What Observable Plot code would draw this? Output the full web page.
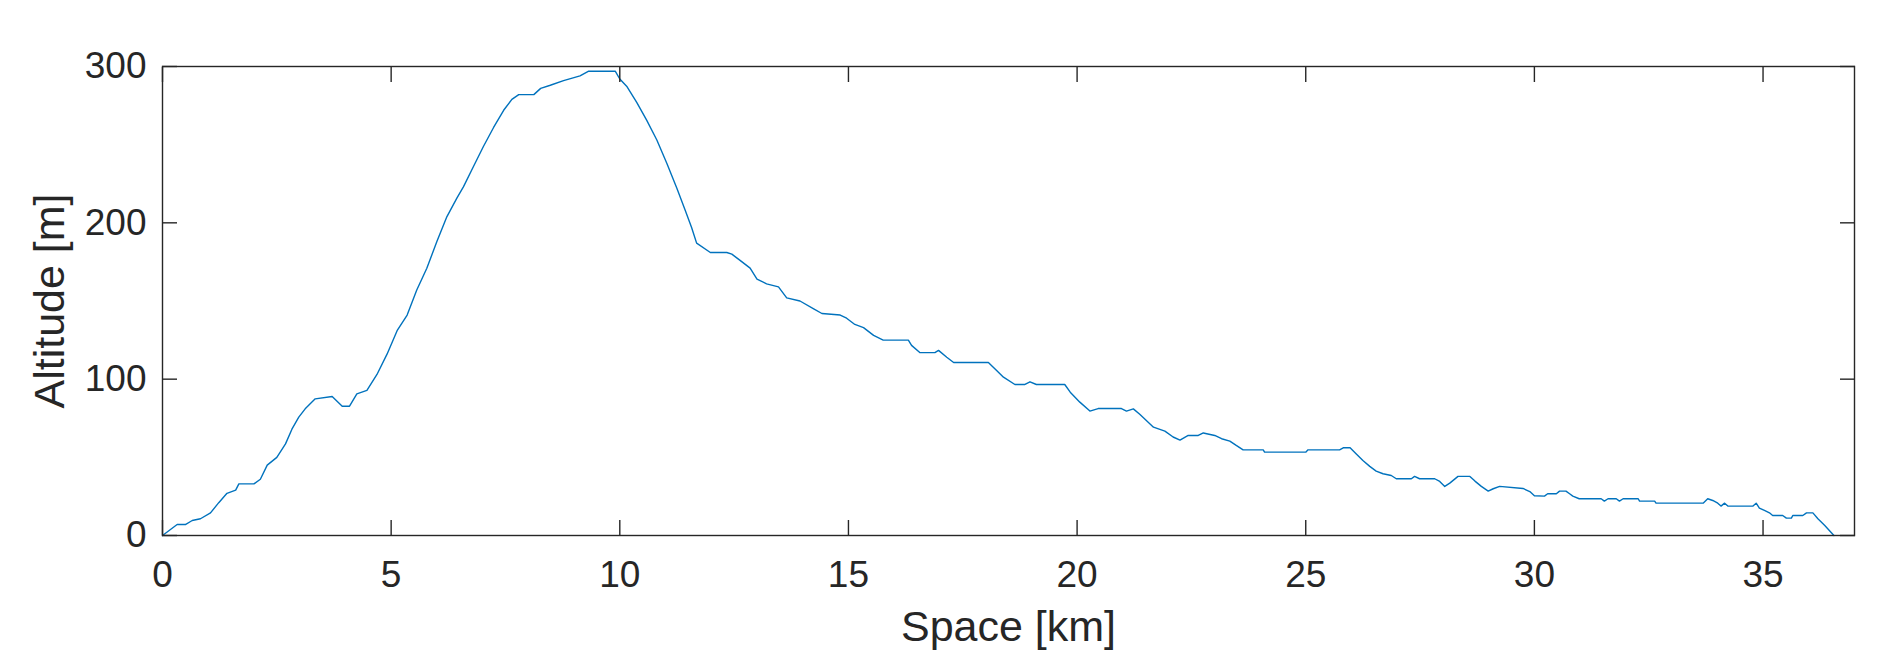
<!DOCTYPE html>
<html>
<head>
<meta charset="utf-8">
<script src="https://cdn.jsdelivr.net/npm/d3@7"></script>
<script src="https://cdn.jsdelivr.net/npm/@observablehq/plot@0.6"></script>
<style>
  html, body { margin: 0; padding: 0; background: #fff; }
  svg { display: block; }
</style>
</head>
<body>
<div id="chart"></div>
<script>
// Distance along the route [km]
const distance = [
  0, 0.32, 0.5, 0.65, 0.83, 1.05, 1.23, 1.41, 1.6, 1.67, 2.0, 2.14, 2.29, 2.5, 2.69, 2.83, 2.98, 3.12, 3.34, 3.71,
  3.93, 4.09, 4.25, 4.47, 4.69, 4.91, 5.13, 5.35, 5.56, 5.78, 6.0, 6.22, 6.44, 6.58, 6.8, 7.02, 7.24, 7.46, 7.64, 7.79,
  8.12, 8.27, 8.48, 8.77, 9.13, 9.32, 9.9, 10.0, 10.16, 10.37, 10.59, 10.81, 11.03, 11.25, 11.43, 11.57, 11.68, 11.98, 12.34, 12.45,
  12.63, 12.85, 13.0, 13.21, 13.47, 13.65, 13.94, 14.24, 14.42, 14.82, 14.96, 15.14, 15.33, 15.55, 15.76, 16.31, 16.38, 16.56, 16.89, 16.97,
  17.15, 17.3, 17.58, 18.06, 18.24, 18.39, 18.64, 18.86, 18.97, 19.11, 19.73, 19.85, 20.06, 20.28, 20.46, 20.97, 21.08, 21.23, 21.37, 21.67,
  21.92, 22.1, 22.25, 22.43, 22.65, 22.76, 23.01, 23.16, 23.34, 23.48, 23.63, 24.07, 24.1, 25.0, 25.05, 25.74, 25.82, 25.97, 26.1, 26.25,
  26.4, 26.54, 26.69, 26.87, 26.98, 27.31, 27.38, 27.49, 27.82, 27.93, 28.04, 28.15, 28.33, 28.59, 28.7, 28.84, 28.99, 29.1, 29.24, 29.75,
  29.9, 30.0, 30.22, 30.29, 30.48, 30.55, 30.69, 30.77, 30.84, 30.98, 31.46, 31.53, 31.61, 31.79, 31.86, 31.94, 32.27, 32.3, 32.63, 32.66,
  33.69, 33.79, 33.9, 34.01, 34.08, 34.16, 34.23, 34.78, 34.85, 34.92, 35.03, 35.14, 35.21, 35.43, 35.51, 35.62, 35.65, 35.87, 35.95, 36.09,
  36.2, 36.35, 36.55
];
// Altitude [m]
const altitude = [
  0, 7, 7, 9.6, 10.7, 14.5, 21, 27, 29, 33, 33, 36, 45, 50, 58.6, 68, 75.7, 81, 87.4, 88.9,
  82.7, 82.7, 90.6, 92.8, 103, 116, 131, 141, 157, 171, 188, 204, 216, 223, 236, 249, 261, 272, 279, 282,
  282, 286, 288, 291, 294, 297, 297, 292, 287, 277, 265.5, 253, 238, 222, 208, 197, 187, 181, 181, 180,
  176, 171, 164, 161, 159, 152, 150, 145, 142, 141, 139, 135, 133, 128, 125, 125, 121.6, 117, 117, 118.4,
  114, 110.7, 110.7, 110.7, 105.5, 101.3, 96.6, 96.6, 98.3, 96.6, 96.6, 91.7, 85.3, 79.6, 81.2, 81.2, 79.6, 81, 77.5, 69.3,
  66.8, 63, 61, 64, 64, 65.6, 64, 61.9, 60.4, 57.6, 54.8, 54.8, 53.3, 53.3, 54.8, 54.8, 56.1, 56.1, 52.3, 48,
  44.2, 41.2, 39.5, 38.4, 36.3, 36.3, 37.8, 36.3, 36.3, 34.6, 31.4, 33.5, 37.8, 37.8, 34.8, 31.4, 28.4, 29.9, 31.4, 30.1,
  28.1, 25.4, 25.2, 26.7, 26.7, 28.4, 28.4, 26.7, 25.2, 23.5, 23.5, 22, 23.5, 23.5, 22, 23.5, 23.5, 22, 22, 20.7,
  20.7, 23.5, 22.4, 20.7, 18.8, 20.7, 18.8, 18.8, 20.7, 17.5, 16, 14.5, 12.8, 12.8, 11.1, 11.1, 12.8, 12.8, 14.5, 14.5,
  10.7, 6.4, 0
];
const xTicks = [0, 5, 10, 15, 20, 25, 30, 35];
const yTicks = [0, 100, 200, 300];
const xDomain = [0, 37];
const yDomain = [0, 300];
const xLabel = "Space [km]";
const yLabel = "Altitude [m]";

const data = distance.map((d, i) => ({km: d, alt: altitude[i]}));

const axisColor = "#262626";
const tickFont = 37;
const labelFont = 43;

const chart = Plot.plot({
  width: 1881,
  height: 659,
  marginLeft: 162,
  marginRight: 27,
  marginTop: 66,
  marginBottom: 124,
  style: {fontFamily: "'Liberation Sans', Arial, Helvetica, sans-serif", color: axisColor, background: "#fff"},
  x: {domain: xDomain, label: null},
  y: {domain: yDomain, label: null},
  marks: [
    Plot.line(data, {x: "km", y: "alt", stroke: "#0072BD", strokeWidth: 1.4}),
    Plot.frame({stroke: axisColor, strokeWidth: 1.4}),
    Plot.axisX(xTicks, {anchor: "bottom", tickSize: -15, tickPadding: 40.5, fontSize: tickFont, stroke: axisColor, strokeWidth: 1.4, fill: axisColor, label: null}),
    Plot.axisX(xTicks, {anchor: "top", tickSize: -15, tickFormat: () => "", stroke: axisColor, strokeWidth: 1.4, label: null}),
    Plot.axisY(yTicks, {anchor: "left", tickSize: -15, tickPadding: 31, fontSize: tickFont, stroke: axisColor, strokeWidth: 1.4, fill: axisColor, label: null}),
    Plot.axisY(yTicks, {anchor: "right", tickSize: -15, tickFormat: () => "", stroke: axisColor, strokeWidth: 1.4, label: null}),
    Plot.text([xLabel], {frameAnchor: "bottom", textAnchor: "middle", lineAnchor: "bottom", dy: 105, fontSize: labelFont, fill: axisColor}),
    Plot.text([yLabel], {frameAnchor: "left", textAnchor: "middle", lineAnchor: "bottom", rotate: -90, dx: -99, fontSize: labelFont, fill: axisColor})
  ]
});
document.getElementById("chart").appendChild(chart);
</script>
</body>
</html>
